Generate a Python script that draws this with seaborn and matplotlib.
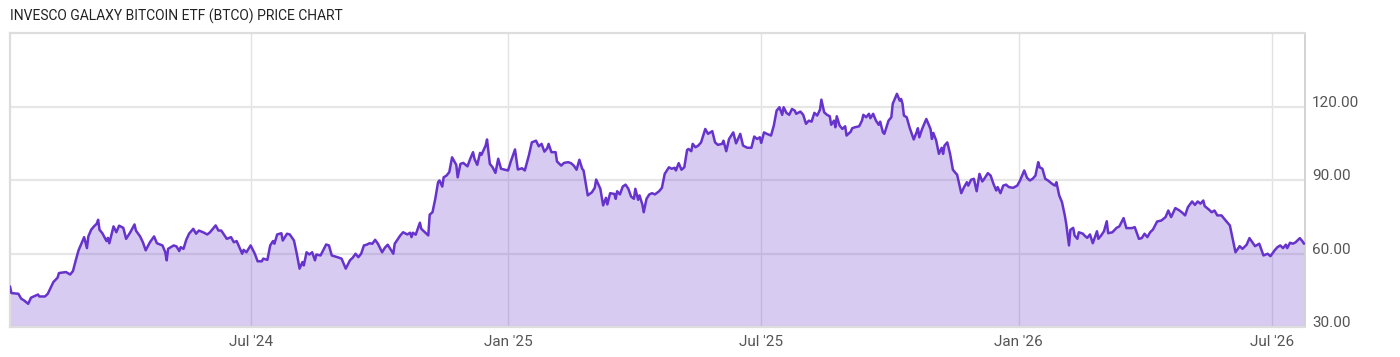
import pandas as pd
import matplotlib.pyplot as plt
import seaborn as sns

# BTCO closing prices
start_date = "2024-01-11"
days = [0, 1, 6, 8, 10, 13, 15, 20, 21, 25, 27, 31, 34, 35, 40, 43, 45, 47, 49, 51,
        53, 55, 56, 58, 60, 62, 63, 64, 66, 69, 70, 71, 74, 76, 78, 81, 83, 86, 89, 90,
        93, 95, 97, 100, 103, 105, 109, 111, 112, 113, 117, 119, 121, 122, 124, 126, 128, 131, 133,
        135, 138, 141, 143, 147, 149, 151, 155, 158, 160, 162, 166, 167, 169, 172, 175, 177, 180, 181, 184,
        186, 188, 189, 191, 194, 195, 198, 200, 203, 205, 207, 209, 210, 212, 214, 216, 218, 219, 222, 224,
        226, 228, 230, 234, 237, 240, 243, 245, 247, 249, 251, 253, 255, 257, 259, 261, 263, 266, 268,
        270, 274, 275, 279, 281, 284, 286, 287, 288, 290, 293, 294, 297, 299, 300, 302, 304, 306, 307, 309,
        310, 312, 314, 316, 319, 320, 322, 324, 327, 329, 331, 332, 334, 336, 337, 340, 341, 343, 345, 347,
        349, 351, 354, 356, 358, 361, 363, 366, 368, 371, 373, 376, 378, 380, 382, 384, 385, 387, 390, 391,
        394, 396,
        399, 401, 403, 405, 407, 409, 410, 413, 416, 418, 419, 422, 424, 426, 427, 429, 432, 433, 434, 436,
        438, 440, 442, 444, 446, 447, 449, 450, 452, 453, 455, 457, 459, 461, 464, 466, 468, 471, 473, 475,
        476, 478, 480, 482, 484, 485, 487, 488, 490, 492, 494, 497, 499, 502, 504, 506, 509, 510, 512, 514,
        517, 519, 522, 524, 527, 530,
        532, 534, 536, 537, 539, 541, 544, 546, 548, 550, 552, 553, 555, 557, 559, 561, 562, 565, 567, 569,
        571, 573, 575, 577, 579, 580, 582, 584, 586, 587, 589, 590, 591, 593, 595, 597, 598, 601, 602, 604,
        607, 609, 610, 612, 614, 615, 617, 619, 621, 622, 624, 625, 628, 630, 631, 633, 634, 636, 637, 638,
        639, 641, 643, 646, 648, 649, 650, 652, 655, 658, 659, 660,
        662, 664, 666, 667, 668, 670, 672, 674, 676, 677, 680, 682, 684, 685, 687, 689, 691, 693, 695, 696,
        699, 701, 703, 705, 706, 708, 710, 712, 714, 717, 720, 722, 725, 727, 729, 731, 733, 735, 736, 738,
        740, 742, 745, 747, 748, 750, 752, 754, 755, 757, 758, 760, 761, 763, 764, 767, 768, 770, 772, 774,
        777, 778, 780, 782, 784, 785, 788, 791, 793,
        796, 798, 802, 804, 807, 809, 811, 813, 815, 817, 820, 823, 826, 828, 830, 833, 836, 838, 840, 842,
        845, 847, 849, 851, 853, 854, 857, 859, 861, 863, 866, 869, 872, 874, 876, 879, 881, 884, 886, 890,
        893, 896, 899, 901, 904, 906, 908, 910, 912, 913, 915, 917, 919, 922, 924, 925]
prices = [46.6, 43.9, 43.6, 41.6, 40.9, 39.5, 42.0, 43.3, 42.5, 42.5, 43.6, 48.4, 50.2, 52.1, 52.5, 51.5, 52.9, 57.3, 61.4, 64.1,
          66.8, 62.3, 67.1, 69.8, 71.2, 72.3, 73.9, 69.8, 68.4, 65.2, 66.5, 64.3, 71.2, 68.8, 71.5, 70.6, 66.1, 68.8, 72.0, 69.5,
          67.1, 64.7, 61.4, 64.7, 67.1, 64.3, 63.4, 60.6, 57.3, 62.0, 63.4, 63.0, 61.1, 62.7, 62.0, 65.7, 68.2, 70.2, 68.2,
          69.5, 68.8, 67.9, 68.8, 71.6, 69.5, 69.5, 66.1, 66.8, 64.7, 65.2, 60.0, 61.6, 60.6, 63.4, 60.0, 56.9, 56.9, 58.0, 57.5,
          63.4, 65.2, 64.1, 67.9, 68.4, 65.4, 68.2, 67.9, 65.4, 60.0, 53.9, 56.6, 55.2, 60.6, 59.7, 60.6, 57.3, 59.7, 59.3, 61.6,
          63.8, 63.4, 59.3, 58.6, 58.0, 53.9, 57.3, 58.4, 60.0, 58.6, 60.0, 63.4, 63.7, 64.3, 64.1, 65.7, 64.1, 60.6, 62.5,
          63.7, 60.0, 64.1, 67.5, 68.8, 67.9, 68.6, 66.8, 68.6, 67.8, 72.7, 70.2, 68.6, 67.5, 76.0, 77.0, 82.5, 89.3, 90.0, 87.5,
          91.3, 92.0, 93.4, 99.5, 96.4, 91.3, 96.8, 97.2, 95.8, 98.9, 101.6, 98.9, 96.4, 101.3, 100.5, 104.3, 106.8, 96.8, 95.4, 93.1,
          98.9, 94.8, 94.4, 94.1, 97.8, 102.7, 94.5, 95.0, 94.1, 100.5, 105.6, 106.3, 104.0, 105.0, 101.8, 103.2, 105.0, 101.6, 101.6, 97.8,
          96.1, 97.2,
          97.5, 97.1, 96.1, 94.4, 98.5, 94.8, 94.1, 83.9, 85.2, 87.0, 90.4, 86.6, 79.8, 82.9, 80.2, 84.8, 84.5, 82.5, 85.6, 84.3,
          87.5, 88.3, 86.6, 83.4, 82.5, 86.6, 82.1, 83.9, 80.2, 77.0, 82.5, 84.3, 84.8, 84.3, 85.6, 87.0, 92.7, 95.4, 94.8, 95.2,
          94.1, 97.1, 94.4, 95.4, 102.5, 102.9, 102.0, 105.0, 103.6, 104.3, 105.6, 111.1, 109.1, 110.2, 105.6, 104.6, 105.0, 106.3, 102.0, 107.0,
          109.7, 105.2, 109.1, 104.3, 103.4, 103.4,
          108.0, 107.0, 107.7, 105.4, 109.7, 109.1, 108.4, 112.5, 118.6, 120.0, 116.9, 120.0, 117.7, 116.9, 119.3, 118.6, 117.3, 118.2, 116.9, 113.2,
          114.5, 114.1, 117.7, 116.6, 119.0, 123.1, 117.9, 116.9, 116.3, 112.8, 114.5, 111.8, 116.3, 112.5, 111.1, 112.2, 108.4, 110.0, 111.4, 111.8,
          112.2, 114.5, 116.9, 115.9, 117.3, 115.5, 117.3, 114.5, 112.8, 114.1, 109.7, 109.1, 114.5, 115.9, 121.4, 124.1, 125.5, 122.7, 123.4, 121.4,
          116.6, 115.9, 111.8, 106.8, 109.7, 111.4, 107.7, 111.1, 115.2, 111.1, 107.0, 109.5,
          106.5, 100.9, 103.4, 100.9, 104.3, 105.6, 100.9, 94.4, 93.0, 92.4, 84.8, 87.3, 89.3, 87.9, 90.3, 90.7, 85.6, 92.7, 89.6, 90.3,
          93.0, 92.0, 88.6, 85.9, 87.3, 84.8, 87.9, 88.3, 87.3, 87.0, 87.9, 90.0, 94.1, 91.1, 90.0, 90.7, 92.0, 97.5, 95.4, 94.8,
          90.7, 90.0, 88.6, 87.9, 89.3, 83.9, 81.1, 75.7, 72.3, 63.4, 69.8, 70.6, 67.5, 66.1, 68.8, 68.2, 67.5, 66.5, 67.9, 64.3,
          69.2, 66.1, 67.5, 69.2, 73.3, 68.4, 68.8, 70.6, 71.2,
          74.6, 70.5, 70.5, 70.9, 66.1, 66.4, 68.2, 66.8, 68.8, 69.9, 73.2, 73.6, 75.0, 77.7, 75.0, 78.7, 77.7, 76.8, 75.7, 79.1,
          81.4, 80.0, 81.4, 80.5, 81.8, 79.5, 78.1, 77.0, 77.7, 75.7, 75.7, 73.6, 71.6, 66.1, 60.6, 63.1, 62.0, 63.7, 66.4, 63.1,
          64.1, 59.3, 60.0, 59.0, 61.4, 62.7, 63.4, 62.3, 63.7, 62.3, 64.5, 64.1, 64.7, 66.4, 65.0, 64.1]

tick_dates = ["2024-07-01", "2025-01-01", "2025-07-01", "2026-01-01", "2026-07-01"]
tick_labels = ["Jul '24", "Jan '25", "Jul '25", "Jan '26", "Jul '26"]
y_ticks = [30, 60, 90, 120]

df = pd.DataFrame({
    "Date": pd.Timestamp(start_date) + pd.to_timedelta(days, unit="D"),
    "Price": prices,
})

sns.set_theme(style="white")
plt.rcParams["font.family"] = ["Roboto", "DejaVu Sans"]

line_color = "#6633cc"

fig = plt.figure(figsize=(14, 3.57), dpi=100)
ax = fig.add_axes([10 / 1400, 1 - 327 / 357, 1295 / 1400, 294 / 357])

ax.fill_between(df["Date"], df["Price"], 0, color=line_color, alpha=0.25, linewidth=0, zorder=2)
sns.lineplot(data=df, x="Date", y="Price", ax=ax, color=line_color, linewidth=1.8, zorder=3)

ax.set_xlim(pd.Timestamp(start_date), pd.Timestamp(start_date) + pd.Timedelta(days=925.7))
ax.set_ylim(30, 150.4)

ax.set_xticks(pd.to_datetime(tick_dates))
ax.set_xticklabels(tick_labels)
ax.set_yticks(y_ticks)
ax.set_yticklabels([f"{v:.2f}" for v in y_ticks])
ax.yaxis.tick_right()
for lbl in ax.get_yticklabels():
    lbl.set_verticalalignment("baseline")

ax.tick_params(axis="both", length=0, labelsize=11, labelcolor="#555555")
ax.tick_params(axis="x", pad=6)
ax.tick_params(axis="y", pad=5)

ax.grid(axis="y", color="#e6e6e6", linewidth=1.6, zorder=1)
ax.grid(axis="x", color="#e2e2e2", linewidth=1.0, zorder=1)
ax.set_axisbelow(True)
ax.set_xlabel("")
ax.set_ylabel("")

for side in ["top", "left", "bottom"]:
    ax.spines[side].set_color("#dddddd")
    ax.spines[side].set_linewidth(1.6)
ax.spines["right"].set_color("#cccccc")
ax.spines["right"].set_linewidth(1.2)

fig.text(10 / 1400, 1 - 16.7 / 357, "INVESCO GALAXY BITCOIN ETF (BTCO) PRICE CHART",
         fontsize=10, color="#222222", va="center", ha="left",
         family=["Liberation Sans Narrow", "Roboto"])

fig.savefig("out.png", dpi=100)
